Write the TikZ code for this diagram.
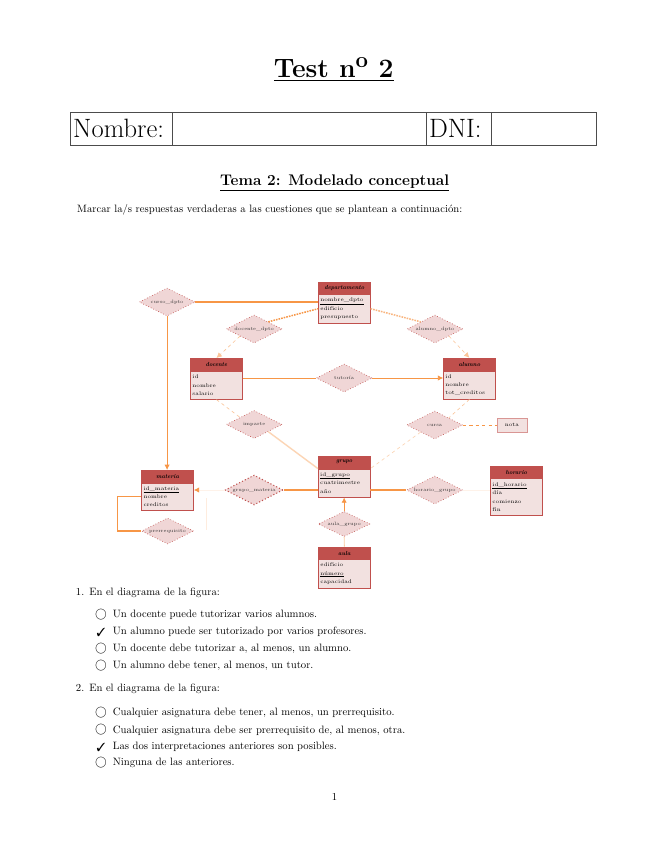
\documentclass[tikz,border=0pt]{standalone}
\usepackage{amssymb}
\usepackage{pifont}
\usepackage{xcolor}
\usepackage{tikz}
\usetikzlibrary{shapes.geometric,arrows.meta,positioning,calc}

\definecolor{entcab}{RGB}{192,80,77}
\definecolor{entborde}{RGB}{192,80,77}
\definecolor{entcuerpo}{RGB}{242,225,224}
\definecolor{rombo}{RGB}{240,214,214}
\definecolor{naranja}{RGB}{247,150,70}

\begin{document}
\begin{tikzpicture}[x=0.03296cm,y=-0.03295cm,>={Latex[length=5pt,width=5pt]},
   font=\fontsize{10}{12}\selectfont,
   texto/.style={anchor=base west,inner sep=0pt},
   marca/.style={inner sep=0pt,font=\fontsize{11}{12}\selectfont},
   celda/.style={draw=black!70,line width=0.6pt,minimum height=30.8pt,inner xsep=3pt,inner ysep=0pt,
     outer sep=0pt,anchor=north west,align=left,font=\fontsize{24.88}{28}\selectfont},
   cab/.style={draw=entborde,fill=entcab,line width=0.5pt,minimum width=48.6pt,minimum height=11.5pt,
     inner sep=0pt,font=\fontsize{5.5}{6}\selectfont\bfseries\itshape},
   cuerpo/.style={draw=entborde,fill=entcuerpo,line width=0.5pt,text width=45pt,align=left,
     inner xsep=1.8pt,inner ysep=1.5pt,minimum height=26.5pt,font=\fontsize{5}{7.8}\selectfont},
   rel/.style={diamond,aspect=2.2,draw=entborde,dotted,line width=0.6pt,fill=rombo,minimum width=52.3pt,
     minimum height=26.2pt,inner sep=0pt,text=black!80,font=\fontsize{4.5}{5}\selectfont},
   fuerte/.style={draw=naranja,line width=1.3pt},
   medio/.style={draw=naranja,line width=0.8pt},
   fino/.style={draw=naranja,line width=0.8pt},
   rayado/.style={draw=naranja,line width=1.4pt,dash pattern=on 1.5pt off 1pt},
   suave/.style={draw=naranja!55,line width=0.6pt,dashed},
   doble/.style={draw=naranja!40,line width=1.3pt},
   tenue/.style={draw=naranja!12,line width=0.8pt}]
  \path[use as bounding box,fill=white] (0,0) rectangle (655,848);

  % cabecera
  \node[anchor=base,inner sep=0pt,font=\fontsize{24.88}{28}\selectfont\bfseries] (titulo) at (333.5,77)
    {\underline{Test n\textsuperscript{o} 2}};
  \node[celda,text width=90.2pt] (nombre) at (70,112) {Nombre:};
  \node[celda,text width=231.3pt,right=0pt of nombre] (hueco1) {};
  \node[celda,text width=55.7pt,right=0pt of hueco1] (dni) {DNI:};
  \node[celda,text width=92.1pt,right=0pt of dni] (hueco2) {};
  \node[anchor=base,inner sep=0pt,font=\fontsize{14.4}{17}\selectfont\bfseries] (tema) at (334.5,185)
    {\underline{Tema 2: Modelado conceptual}};
  \node[texto] (marcar) at (77,212)
    {Marcar la/s respuestas verdaderas a las cuestiones que se plantean a continuación:};

  % entidades
  \node[cab] (dep) at (344.2,287.9) {departamento};
  \node[cuerpo,below=0pt of dep] (depb) {\underline{nombre\_dpto}\\edificio\\presupuesto};
  \node[cab] (doc) at (216.4,364.4) {docente};
  \node[cuerpo,below=0pt of doc] (docb) {id\\nombre\\salario};
  \node[cab] (alu) at (469.2,364.2) {alumno};
  \node[cuerpo,below=0pt of alu] (alub) {id\\nombre\\tot\_creditos};
  \node[cab] (gru) at (344,462.2) {grupo};
  \node[cuerpo,below=0pt of gru] (grupob) {\underline{id\_grupo}\\cuatrimestre\\año};
  \node[cab] (mat) at (167.5,476.4) {materia};
  \node[cuerpo,minimum height=25.5pt,below=0pt of mat] (matb) {\underline{id\_materia}\\nombre\\creditos};
  \node[cab] (aula) at (344.2,553) {aula};
  \node[cuerpo,below=0pt of aula] (aulab) {edificio\\\underline{número}\\capacidad};
  \node[cab] (hor) at (516.2,472) {horario};
  \node[cuerpo,minimum height=34.5pt,below=0pt of hor] (horb) {\underline{id\_horario}\\día\\comienzo\\fin};
  \node[draw=entborde!60,fill=entcuerpo,minimum width=28pt,minimum height=13.4pt,inner sep=1pt,
    font=\fontsize{5}{6}\selectfont] (nota) at (511.7,425) {nota};

  % relaciones
  \node[rel] (mdpto) at (167,302) {curso\_dpto};
  \node[rel] (ddpto) at (254,329) {docente\_dpto};
  \node[rel] (adpto) at (434.7,329) {alumno\_dpto};
  \node[rel] (tutoria) at (344,378) {tutoría};
  \node[rel] (imparte) at (254,424.5) {imparte};
  \node[rel] (cursa) at (434.5,425) {cursa};
  \node[rel,line width=1pt,minimum width=54.2pt,minimum height=28pt] (gmat) at (254,490) {grupo\_materia};
  \node[rel] (hgrupo) at (434.5,490) {horario\_grupo};
  \node[rel,minimum width=48.6pt,minimum height=24.3pt] (prerreq) at (167.5,531) {prerrequisito};
  \node[rel,minimum width=48.6pt,minimum height=23.4pt] (agrupo) at (344,524) {aula\_grupo};
  \coordinate (pr1) at (206,498);
  \coordinate (pr2) at (206,530);

  \draw[fuerte] (mdpto.east) -- (mdpto.east -| depb.west);
  \draw[fino,->] (mdpto.south) -- (mdpto.south |- mat.north);
  \draw[rayado] (ddpto.north east) -- (depb.west);
  \draw[suave,->] (ddpto.south west) -- (doc.north);
  \draw[rayado,draw=naranja!70] (depb.east) -- (adpto.north west);
  \draw[suave,->] (adpto.south east) -- (alu.north);
  \draw[medio] (docb.east |- tutoria.west) -- (tutoria.west);
  \draw[medio,->] (tutoria.east) -- (tutoria.east -| alub.west);
  \draw[suave] (docb.south) -- (imparte.north west);
  \draw[doble] (imparte.south east) -- (grupob.north west);
  \draw[suave] (alub.south) -- (cursa.north east);
  \draw[suave,draw=naranja!40] (cursa.south west) -- (grupob.north east);
  \draw[suave,draw=naranja] (cursa.east) -- (nota.west);
  \draw[fuerte] (grupob.west |- gmat.east) -- (gmat.east);
  \draw[tenue,-{Latex[length=5pt,width=5pt,color=naranja]}] (gmat.west) -- (gmat.west -| matb.east);
  \draw[fuerte] (grupob.east |- hgrupo.west) -- (hgrupo.west);
  \draw[tenue] (hgrupo.east) -- (hgrupo.east -| horb.west);
  \draw[medio,draw=naranja!50] (aula.north) -- (agrupo.south);
  \draw[medio,->] (agrupo.north) -- (grupob.south);
  \draw[fuerte] (matb.west) -- ++(-24,0) |- (prerreq.west);
  \draw[tenue,draw=naranja!18] (pr1) -- (pr2);

  % preguntas
  \node[texto] (p1) at (75.7,595) {1.};
  \node[texto] (p1t) at (89,595) {En el diagrama de la figura:};
  \node[marca] (s11) at (101,615) {$\bigcirc$};
  \node[texto] (t11) at (112.7,617.5) {Un docente puede tutorizar varios alumnos.};
  \node[marca] (s12) at (101,632) {\ding{51}};
  \node[texto] (t12) at (112.7,634.8) {Un alumno puede ser tutorizado por varios profesores.};
  \node[marca] (s13) at (101,649) {$\bigcirc$};
  \node[texto] (t13) at (112.7,651.8) {Un docente debe tutorizar a, al menos, un alumno.};
  \node[marca] (s14) at (101,666) {$\bigcirc$};
  \node[texto] (t14) at (112.7,668.5) {Un alumno debe tener, al menos, un tutor.};

  \node[texto] (p2) at (75.7,691.8) {2.};
  \node[texto] (p2t) at (89,691.8) {En el diagrama de la figura:};
  \node[marca] (s21) at (101,713) {$\bigcirc$};
  \node[texto] (t21) at (112.7,715.8) {Cualquier asignatura debe tener, al menos, un prerrequisito.};
  \node[marca] (s22) at (101,730) {$\bigcirc$};
  \node[texto] (t22) at (112.7,733.2) {Cualquier asignatura debe ser prerrequisito de, al menos, otra.};
  \node[marca] (s23) at (101,747) {\ding{51}};
  \node[texto] (t23) at (112.7,749.8) {Las dos interpretaciones anteriores son posibles.};
  \node[marca] (s24) at (101,763) {$\bigcirc$};
  \node[texto] (t24) at (112.7,765.8) {Ninguna de las anteriores.};

  \node[anchor=base,inner sep=0pt] (pagina) at (334.3,800) {1};
\end{tikzpicture}
\end{document}
